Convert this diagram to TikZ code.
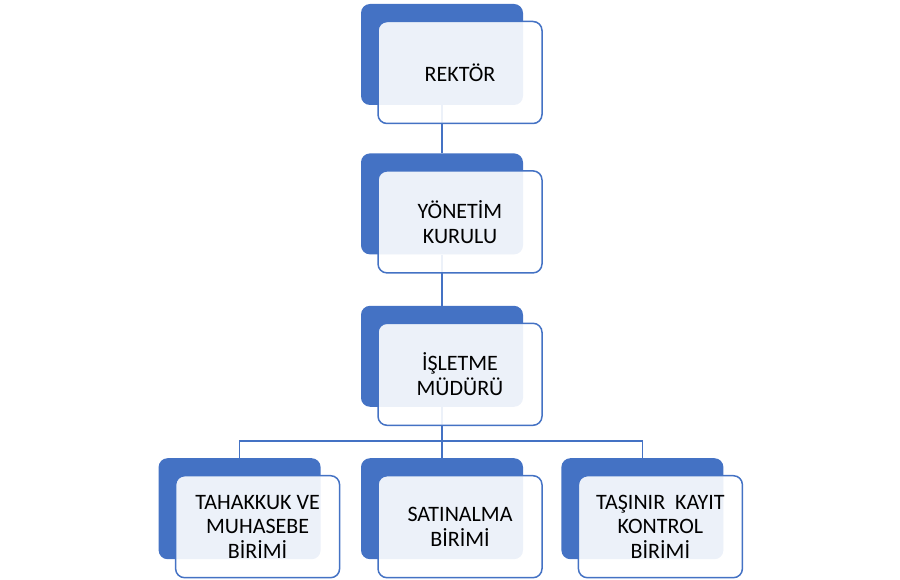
\documentclass[tikz,border=0pt]{standalone}
\usepackage{fontspec}
\setmainfont{Carlito}
\usepackage{tikz}
\usetikzlibrary{positioning}
\definecolor{accblue}{HTML}{4472C4}

\begin{document}
\begin{tikzpicture}[x=1pt, y=1pt, node distance=50pt]
    \tikzstyle{darkbox}=[fill=accblue, rounded corners=9pt, minimum width=162pt, minimum height=101pt]
    \tikzstyle{frontbox}=[draw=accblue, line width=1.5pt, fill=white, fill opacity=0.9, text opacity=1,
        rounded corners=9pt, minimum width=164pt, minimum height=102pt, align=center,
        font=\fontsize{22}{24.5}\selectfont, xshift=18pt, yshift=-18pt]
    \tikzstyle{conn}=[draw=accblue, line width=1.3pt]
    \useasboundingbox (0,0) rectangle (900,579);

    % back boxes
    \node[darkbox] (rekb) at (442,524.5) {};
    \node[darkbox, below=48pt of rekb] (yonb) {};
    \node[darkbox, below=51pt of yonb] (islb) {};
    \node[darkbox, below=51pt of islb] (satb) {};
    \node[darkbox, left=40pt of satb] (tahb) {};
    \node[darkbox, right=38pt of satb] (tasb) {};

    % connectors
    \draw[conn] (rekb.south) -- (yonb.north);
    \draw[conn] (yonb.south) -- (islb.north);
    \draw[conn] (islb.south) -- ++(0,-34) coordinate (bar);
    \draw[conn] (bar) -- (satb.north);
    \draw[conn] (bar) -| (tahb.north);
    \draw[conn] (bar) -| (tasb.north);

    % front boxes
    \node[frontbox] (rek) at (rekb) {REKTÖR};
    \node[frontbox] (yon) at (yonb) {YÖNETİM\\KURULU};
    \node[frontbox] (isl) at (islb) {İŞLETME\\MÜDÜRÜ};
    \node[frontbox] (tah) at (tahb) {TAHAKKUK VE\\MUHASEBE\\BİRİMİ};
    \node[frontbox] (sat) at (satb) {SATINALMA\\BİRİMİ};
    \node[frontbox] (tas) at (tasb) {TAŞINIR\ \ KAYIT\\KONTROL\\BİRİMİ};
\end{tikzpicture}
\end{document}
